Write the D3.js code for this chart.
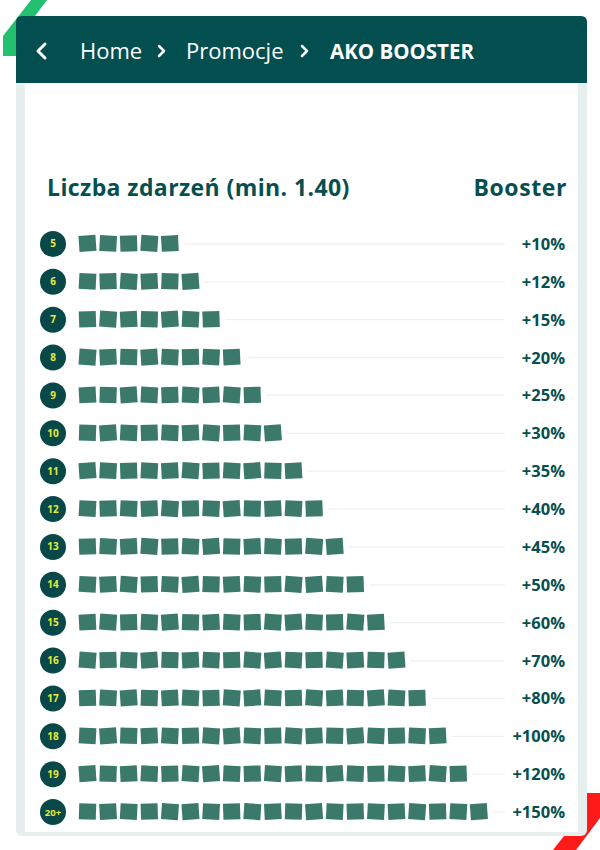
<!DOCTYPE html>
<html><head><meta charset="utf-8">
<script src="https://cdn.jsdelivr.net/npm/d3@7"></script>
<style>
html,body{margin:0;padding:0;background:#fff;}
svg{display:block;}
</style></head>
<body>
<svg id="c" width="600" height="850"></svg>
<script>
const categories = ["5","6","7","8","9","10","11","12","13","14","15","16","17","18","19","20+"];
const squareCounts = [5,6,7,8,9,10,11,12,13,14,15,16,17,18,19,20];
const boostValues = [10,12,15,20,25,30,35,40,45,50,60,70,80,100,120,150];
const breadcrumb = ["Home","Promocje","AKO BOOSTER"];
const titleLeft = "Liczba zdarzeń (min. 1.40)";
const titleRight = "Booster";

const svg = d3.select("#c");
const F = "'Open Sans', sans-serif";
const dark = "#064f4f";

// decorative shapes
svg.append("polygon").attr("points","31,0 47,0 17,40 17,56 3,56 3,36").attr("fill","#22c070");
svg.append("polygon").attr("points","578,793 600,793 600,818 576,850 553,850 578,818").attr("fill","#ff1a1a");

// card shadow/border
svg.append("rect").attr("x",16).attr("y",40).attr("width",571).attr("height",796).attr("rx",6).attr("fill","#e7eeee");
svg.append("rect").attr("x",25).attr("y",70).attr("width",553).attr("height",762).attr("fill","#fff");
// header
svg.append("path").attr("d","M16,83 L16,22 Q16,16 22,16 L581,16 Q587,16 587,22 L587,83 Z").attr("fill","#034f4f");

// breadcrumb
const hy = 59;
svg.append("path").attr("d","M45,44 L38,51 L45,58").attr("fill","none").attr("stroke","#fff").attr("stroke-width",3).attr("stroke-linecap","round").attr("stroke-linejoin","round");
svg.append("text").attr("x",80).attr("y",hy).attr("font-family",F).attr("font-size",22).attr("fill","#fff").text(breadcrumb[0]);
svg.append("path").attr("d","M159,46 L164,51 L159,56").attr("fill","none").attr("stroke","#fff").attr("stroke-width",2.5).attr("stroke-linecap","round").attr("stroke-linejoin","round");
svg.append("text").attr("x",186).attr("y",hy).attr("font-family",F).attr("font-size",22).attr("fill","#fff").text(breadcrumb[1]);
svg.append("path").attr("d","M302,46 L307,51 L302,56").attr("fill","none").attr("stroke","#fff").attr("stroke-width",2.5).attr("stroke-linecap","round").attr("stroke-linejoin","round");
svg.append("text").attr("x",330).attr("y",hy).attr("font-family",F).attr("font-weight",700).attr("font-size",20.5).attr("fill","#fff").text(breadcrumb[2]);

// titles
svg.append("text").attr("x",47).attr("y",196).attr("font-family",F).attr("font-weight",700).attr("font-size",23).attr("letter-spacing",0.4).attr("fill",dark).text(titleLeft);
svg.append("text").attr("x",567).attr("y",196).attr("text-anchor","end").attr("font-family",F).attr("font-weight",700).attr("font-size",23).attr("letter-spacing",0.6).attr("fill",dark).text(titleRight);

// scales
const y = d3.scaleBand().domain(categories).range([225, 831]).paddingInner(0);
const x = d3.scaleLinear().domain([0,20]).range([79, 491]);
const sq = 17;

const rows = svg.append("g").selectAll("g").data(categories).join("g")
  .attr("transform", d => `translate(0,${y(d)+y.bandwidth()/2})`);

rows.append("line")
  .attr("x1",(d,i)=>x(squareCounts[i])+2).attr("x2",505)
  .attr("stroke","#eef1f1").attr("stroke-width",1.2);

rows.append("circle").attr("cx",53).attr("cy",0).attr("r",13).attr("fill","#094848");
rows.append("text").attr("x",53).attr("y",3.5).attr("text-anchor","middle")
  .attr("font-family",F).attr("font-weight",700).attr("font-size",d=>d.length>2?9.5:10).attr("fill","#e8eb3a").text(d=>d);

const rot = [-4,3,-2,4,-3,2,-4,3,-2,3,-3,4,-2,3,-4,2,-3,3,-2,4];
rows.each(function(d,i){
  const g = d3.select(this);
  g.selectAll("rect").data(d3.range(squareCounts[i])).join("rect")
    .attr("x",k=>x(k)).attr("y",-sq/2).attr("width",sq).attr("height",sq-1)
    .attr("fill","#3b7a6b")
    .attr("transform",k=>`rotate(${rot[(k+i)%rot.length]},${x(k)+sq/2},0)`);
});

rows.append("text").attr("x",565).attr("y",6).attr("text-anchor","end")
  .attr("font-family",F).attr("font-weight",700).attr("font-size",16.5).attr("fill",dark)
  .text((d,i)=>"+"+boostValues[i]+"%");
</script>
</body></html>
